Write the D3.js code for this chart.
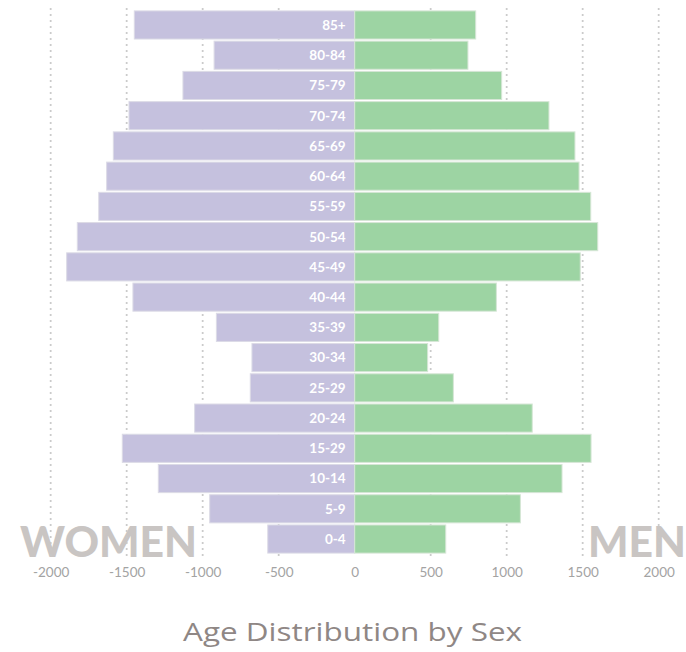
<!DOCTYPE html>
<html><head><meta charset="utf-8">
<script src="https://cdn.jsdelivr.net/npm/d3@7"></script>
<style>body{margin:0;background:#fff}svg{display:block}</style>
</head><body>
<script>
const ageGroups = ["85+","80-84","75-79","70-74","65-69","60-64","55-59","50-54","45-49","40-44","35-39","30-34","25-29","20-24","15-29","10-14","5-9","0-4"];
const women = [1450,925,1130,1485,1588,1632,1684,1825,1895,1459,910,676,687,1053,1529,1292,954,572];
const men   = [796,745,967,1278,1449,1476,1553,1599,1484,932,553,480,649,1168,1555,1364,1090,599];
const tickValues = [-2000,-1500,-1000,-500,0,500,1000,1500,2000];
const title = "Age Distribution by Sex";

const W = 686, H = 652;
const svg = d3.select("body").append("svg").attr("width", W).attr("height", H);
const x = d3.scaleLinear().domain([-2000, 2000]).range([50.7, 658.7]);
const y = d3.scaleBand().domain(ageGroups).range([10, 554]).paddingInner(0.07).paddingOuter(0.03);

// big side labels (behind grid)
svg.append("text").attr("x", 20).attr("y", 557).text("WOMEN")
  .attr("font-family", "Lato").attr("font-weight", 900).attr("font-size", 42)
  .attr("textLength", 177).attr("lengthAdjust", "spacingAndGlyphs")
  .attr("fill", "#c9c5c3");
svg.append("text").attr("x", 588).attr("y", 557).text("MEN")
  .attr("font-family", "Lato").attr("font-weight", 900).attr("font-size", 42)
  .attr("textLength", 98).attr("lengthAdjust", "spacingAndGlyphs")
  .attr("fill", "#c9c5c3");

// grid
svg.append("g").selectAll("line").data(tickValues.filter(d => d !== 0)).join("line")
  .attr("x1", d => x(d)).attr("x2", d => x(d)).attr("y1", 9).attr("y2", 556)
  .attr("stroke", "#c8c8c8").attr("stroke-width", 2.2)
  .attr("stroke-dasharray", "0,6").attr("stroke-linecap", "round");

// bars
svg.append("g").selectAll("rect").data(ageGroups).join("rect")
  .attr("x", (d, i) => x(-women[i])).attr("y", d => y(d))
  .attr("width", (d, i) => x(0) - x(-women[i])).attr("height", y.bandwidth())
  .attr("fill", "#c5c1de").attr("stroke", "#dcdbe6").attr("stroke-width", 1);
svg.append("g").selectAll("rect").data(ageGroups).join("rect")
  .attr("x", x(0)).attr("y", d => y(d))
  .attr("width", (d, i) => x(men[i]) - x(0)).attr("height", y.bandwidth())
  .attr("fill", "#9dd4a3").attr("stroke", "#d6e6d6").attr("stroke-width", 1);

// age labels
svg.append("g").selectAll("text").data(ageGroups).join("text")
  .attr("x", x(0) - 9).attr("y", d => y(d) + y.bandwidth() / 2)
  .attr("dy", "0.36em").attr("text-anchor", "end")
  .attr("font-family", "Lato").attr("font-weight", 700).attr("font-size", 13.5)
  .attr("fill", "#fff").text(d => d);

// axis
const axis = d3.axisBottom(x).tickValues(tickValues).tickSize(0).tickPadding(0)
  .tickFormat(d => String(d));
const ax = svg.append("g").attr("transform", "translate(0,567)").call(axis);
ax.select(".domain").remove();
ax.selectAll("text").attr("font-family", "Lato").attr("font-size", 13.5).attr("fill", "#a3a3a3");

// title
svg.append("text").attr("x", 183).attr("y", 641)
  .attr("font-family", "Open Sans").attr("font-size", 26)
  .attr("textLength", 339).attr("lengthAdjust", "spacingAndGlyphs")
  .attr("fill", "#8f8785").text(title);
</script>
</body></html>
